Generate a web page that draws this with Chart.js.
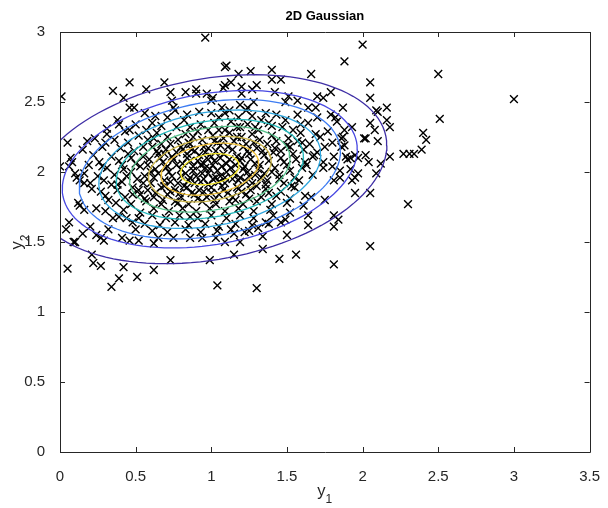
<!DOCTYPE html>
<html>
<head>
<meta charset="utf-8">
<script src="https://cdn.jsdelivr.net/npm/chart.js@4/dist/chart.umd.min.js"></script>
<style>
  html, body { margin: 0; padding: 0; background: #fff; }
</style>
</head>
<body>
<canvas id="chart" width="608" height="508"></canvas>
<script>
// drawn sample (y1, y2)
const samples = [
  [0.96,2.96],[2.00,2.91],[1.88,2.79],[2.50,2.70],[3.00,2.52],[0.01,2.54],
  [2.05,2.64],[2.05,2.53],[2.09,2.44],[2.16,2.46],[1.87,2.46],[2.16,2.37],[2.18,2.32],[2.05,2.35],
  [2.08,2.30],[2.02,2.24],[2.10,2.22],[2.51,2.38],[2.40,2.28],[2.42,2.23],[2.39,2.16],[2.27,2.13],
  [2.31,2.13],[2.34,2.13],[2.18,2.11],[2.02,2.12],[2.04,2.07],[2.12,2.06],[2.09,1.99],[1.97,1.99],
  [1.95,1.96],[1.95,1.85],[2.05,1.85],[2.30,1.77],[1.84,1.66],[1.92,2.10],[1.87,2.25],[1.88,2.30],
  [1.93,2.32],[1.88,2.19],
  [2.05,1.47],[1.81,1.34],[1.81,1.61],[1.81,1.69],[1.56,1.41],[1.45,1.38],[1.30,1.17],[1.04,1.19],
  [0.99,1.37],[1.15,1.41],[1.34,1.45],[1.50,1.55],[1.64,1.62],[1.93,1.94],[1.81,1.94],[1.75,1.80],
  [1.64,1.69],[1.61,1.76],[1.49,1.66],[1.46,1.64],[1.36,1.64],[1.31,1.60],[1.22,1.57],[1.09,1.50],
  [1.03,1.53],[0.94,1.53],[1.34,1.54],[1.15,1.56],
  [0.05,1.31],[0.34,1.18],[0.39,1.24],[0.51,1.25],[0.62,1.30],[0.42,1.32],[0.27,1.33],[0.22,1.35],
  [0.21,1.41],[0.73,1.37],
  [0.09,1.50],[0.04,1.59],[0.06,1.64],[0.20,1.61],[0.24,1.55],[0.27,1.53],[0.15,1.56],[0.32,1.59],
  [0.29,1.51],[0.41,1.53],[0.46,1.51],[0.52,1.51],[0.62,1.49],[0.65,1.53],[0.75,1.53],[0.86,1.53],
  [0.86,1.68],[1.19,1.50],[1.25,1.58],
  [0.13,1.76],[0.16,1.73],[0.06,2.04],[0.13,1.94],[0.16,1.92],[0.20,1.92],[0.24,1.74],[0.34,1.91],
  [0.27,1.86],[0.32,1.80],[0.35,1.67],[0.44,1.67],[0.48,1.64],[0.50,1.59],
  [0.05,2.21],[0.00,2.04],[0.07,2.10],[0.08,2.07],[0.10,1.99],[0.11,1.96],[0.12,1.78],[0.10,1.50],
  [1.09,2.75],[1.10,2.76],[1.18,2.70],[1.26,2.72],[0.46,2.64],[0.35,2.58],[0.69,2.64],[0.57,2.59],
  [0.42,2.53],[0.46,2.46],[0.49,2.46],[0.73,2.57],[0.74,2.51],[0.83,2.57],[0.90,2.59],[0.90,2.56],
  [0.97,2.56],[1.01,2.53],[1.09,2.62],[1.13,2.64],[1.20,2.56],[1.27,2.59],[0.23,2.24],[0.31,2.31],
  [0.39,2.34],[0.38,2.37],[0.46,2.30],[0.57,2.30],[0.61,2.35],[0.56,2.42],[0.75,2.46],[0.76,2.44],
  [0.92,2.43],[1.00,2.42],[1.07,2.46],[1.12,2.44],[1.19,2.48],[1.23,2.44],[0.82,2.37],[0.86,2.32],
  [0.98,2.30],[1.09,2.30],[1.19,2.32],[1.29,2.32],[0.19,2.05],[0.28,2.04],[0.30,2.21],
  [1.40,2.73],[1.66,2.70],[1.40,2.66],[1.46,2.66],[1.30,2.62],[1.20,2.61],[1.08,2.60],[1.42,2.57],
  [1.79,2.57],[1.70,2.54],[1.74,2.53],[1.51,2.54],[1.57,2.51],[1.49,2.50],[1.64,2.46],[1.69,2.46],
  [1.28,2.50],[1.24,2.46],[1.00,2.51],[2.10,2.43],[1.79,2.41],[1.82,2.39],[2.01,2.24],[1.86,2.24],
  [1.80,2.21],[1.72,2.25],[1.70,2.39],[1.64,2.35],[1.57,2.41],[1.54,2.30],[1.49,2.37],[1.43,2.41],
  [1.38,2.35],[1.33,2.37],[1.31,2.30],[1.17,2.32],[1.18,2.39],[1.09,2.42],[1.05,2.30],[1.95,2.12],
  [1.89,2.11],[1.92,2.02],[1.81,2.11],[1.74,2.07],[1.80,2.04],[1.68,2.12],[1.62,2.07],[1.85,2.01],
  [1.60,2.21],[1.83,2.36],[1.86,2.18],[1.75,2.18],[1.90,2.09],[1.97,2.10],[1.67,2.11],[1.63,2.05],
  [1.74,2.03],[1.85,1.96],[1.66,1.82],
  [0.50,2.34],[0.67,2.33],[0.77,2.32],[0.93,2.34],[1.02,2.35],[1.13,2.36],[1.24,2.34],[1.40,2.33],
  [1.47,2.32],[1.59,2.34],[0.63,2.40],[0.71,2.39],[0.84,2.41],[1.05,2.39],[1.27,2.40],[1.36,2.42],
  [0.31,2.27],[0.43,2.29],[0.52,2.26],[0.64,2.28],[0.71,2.25],[0.83,2.27],[0.91,2.29],[1.01,2.26],
  [1.12,2.28],[1.20,2.25],[1.27,2.27],[1.40,2.26],[1.51,2.24],[1.59,2.28],[1.69,2.27],[1.77,2.29],
  [0.18,2.22],[0.36,2.23],[0.45,2.21],[0.58,2.23],[0.67,2.20],[0.78,2.23],[0.85,2.21],[0.94,2.23],
  [1.04,2.21],[1.15,2.22],[1.23,2.20],[1.32,2.23],[1.43,2.22],[1.50,2.19],[1.57,2.22],[1.65,2.20],
  [0.15,2.16],[0.28,2.18],[0.40,2.17],[0.49,2.15],[0.61,2.18],[0.70,2.16],[0.80,2.18],[0.89,2.15],
  [0.98,2.17],[1.06,2.19],[1.14,2.16],[1.21,2.18],[1.34,2.15],[1.42,2.17],[1.52,2.18],[1.61,2.16],
  [1.70,2.14],
  [0.22,2.12],[0.34,2.11],[0.45,2.13],[0.55,2.11],[0.65,2.13],[0.74,2.11],[0.84,2.13],[0.92,2.12],
  [1.00,2.11],[1.08,2.13],[1.17,2.11],[1.25,2.13],[1.35,2.12],[1.46,2.10],[1.54,2.13],
  [0.26,2.07],[0.39,2.08],[0.50,2.06],[0.59,2.09],[0.68,2.07],[0.77,2.05],[0.86,2.08],[0.95,2.06],
  [1.02,2.08],[1.10,2.06],[1.19,2.08],[1.29,2.06],[1.38,2.08],[1.48,2.07],[1.56,2.09],
  [0.31,2.03],[0.42,2.02],[0.53,2.04],[0.63,2.02],[0.71,2.04],[0.80,2.02],[0.88,2.04],[0.96,2.03],
  [1.04,2.01],[1.13,2.03],[1.22,2.04],[1.31,2.02],[1.42,2.03],[1.52,2.01],[1.60,2.03],
  [0.16,1.99],[0.25,1.97],[0.36,1.98],[0.47,2.00],[0.56,1.97],[0.65,1.99],[0.74,1.97],[0.83,1.99],
  [0.90,1.97],[0.98,1.99],[1.06,1.97],[1.15,1.99],[1.25,1.97],[1.35,1.99],[1.45,1.98],[1.55,1.96],
  [1.67,1.98],
  [0.29,1.94],[0.41,1.93],[0.51,1.95],[0.60,1.92],[0.69,1.94],[0.78,1.92],[0.85,1.94],[0.93,1.93],
  [1.01,1.95],[1.09,1.92],[1.18,1.94],[1.27,1.92],[1.37,1.94],[1.48,1.92],[1.58,1.94],
  [0.21,1.88],[0.38,1.87],[0.48,1.89],[0.58,1.87],[0.67,1.89],[0.76,1.87],[0.84,1.89],[0.92,1.87],
  [1.00,1.89],[1.08,1.87],[1.17,1.89],[1.26,1.87],[1.36,1.88],[1.46,1.86],[1.55,1.89],
  [0.30,1.83],[0.43,1.82],[0.53,1.84],[0.62,1.82],[0.71,1.84],[0.80,1.82],[0.89,1.84],[0.97,1.82],
  [1.05,1.84],[1.14,1.82],[1.23,1.84],[1.33,1.82],[1.43,1.83],[1.52,1.81],[1.62,1.83],
  [0.37,1.78],[0.47,1.77],[0.57,1.79],[0.67,1.77],[0.76,1.79],[0.85,1.77],[0.94,1.79],[1.03,1.77],
  [1.12,1.79],[1.21,1.77],[1.30,1.79],[1.40,1.77],[1.50,1.78],
  [0.30,1.72],[0.42,1.73],[0.53,1.71],[0.62,1.74],[0.72,1.72],[0.81,1.74],[0.90,1.72],[0.99,1.74],
  [1.09,1.72],[1.18,1.74],[1.28,1.72],[1.39,1.73],[1.52,1.71],
  [0.39,1.68],[0.52,1.67],[0.61,1.69],[0.70,1.67],[0.79,1.69],[0.91,1.67],[1.00,1.69],[1.10,1.67],
  [1.19,1.69],[1.28,1.67],[1.41,1.69],
  [0.56,1.63],[0.66,1.62],[0.76,1.64],[0.85,1.62],[0.96,1.63],[1.05,1.61],[1.16,1.63],[1.27,1.62],
  [1.38,1.63],
  [0.61,1.58],[0.71,1.57],[0.83,1.59],[0.93,1.57],[1.04,1.58],[1.13,1.59],
  [0.88,2.01],[0.93,2.05],[0.99,2.02],[1.03,1.96],[0.95,1.95],[1.10,2.00],[0.86,1.96],[0.81,2.06],
  [1.06,2.10],[0.97,2.10],[0.72,2.00],[0.69,1.90],[0.75,2.09],[0.60,2.00],[1.19,1.96],[1.24,2.00],
  [1.30,1.90],[1.33,1.96],[1.20,2.10],[0.79,1.85],[0.91,1.81],[1.11,1.85],[0.64,2.15],[0.86,2.20],
  [1.08,2.24],[1.00,1.85],[0.55,1.92],[0.47,2.10],[1.41,2.14],[1.28,2.21],
  [0.58,2.05],[0.62,1.96],[0.66,2.10],[0.70,2.03],[0.73,1.93],[0.77,2.14],[0.80,1.97],[0.82,1.90],
  [0.84,2.10],[0.87,2.16],[0.89,1.92],[0.91,2.08],[0.94,1.99],[0.96,2.14],[0.98,1.91],[1.01,2.05],
  [1.03,2.15],[1.05,1.93],[1.07,2.04],[1.09,1.96],[1.12,2.09],[1.14,1.95],[1.16,2.05],[1.18,1.88],
  [1.21,2.02],[1.23,1.93],[1.26,2.09],[1.29,1.98],[1.32,2.05],[1.36,1.91],[0.52,1.87],[0.56,1.81],
  [0.63,1.85],[0.68,1.80],[0.73,1.86],[0.78,1.78],[0.87,1.85],[0.95,1.86],[1.02,1.80],[1.07,1.90],
  [1.16,1.80],[1.20,1.86],[1.25,1.81],[1.38,1.85],[0.55,2.18],[0.62,2.24],[0.69,2.13],[0.73,2.20],
  [0.81,2.16],[0.88,2.25],[0.95,2.18],[1.02,2.22],[1.11,2.18],[1.17,2.25],[1.24,2.15],[1.30,2.17],
  [1.37,2.20],[1.46,2.15],[0.44,1.97],[0.48,1.84],[0.41,2.05],[0.38,1.91],[1.50,2.05],[1.53,1.90],
  [1.45,1.95],[1.40,2.00]
];

// density contours: mean, covariance and Mahalanobis radius of each level
const mean = [0.99, 2.02];
const covariance = [[0.2704, 0.039], [0.039, 0.09]];
const contourRadii = [2.25, 1.875, 1.66, 1.41, 1.19, 1.02, 0.78, 0.62, 0.37];
const contourColors = ['#3e2ea5', '#4848e2', '#3d7cf2', '#2ea6df', '#20b8bb',
                       '#55c08a', '#cdb74a', '#f1c23a', '#f3e52b'];

const xTicks = [0, 0.5, 1, 1.5, 2, 2.5, 3, 3.5];
const yTicks = [0, 0.5, 1, 1.5, 2, 2.5, 3];

const axisColor = '#262626';
const fontFamily = '"Liberation Sans", Arial, Helvetica, sans-serif';

function ellipse(r) {
  const l11 = Math.sqrt(covariance[0][0]);
  const l21 = covariance[1][0] / l11;
  const l22 = Math.sqrt(covariance[1][1] - l21 * l21);
  const pts = [];
  for (let i = 0; i <= 120; i++) {
    const t = i / 120 * Math.PI * 2;
    const c = Math.cos(t), s = Math.sin(t);
    pts.push({ x: mean[0] + r * l11 * c, y: mean[1] + r * (l21 * c + l22 * s) });
  }
  return pts;
}

// contour lines sit above the markers
const contourSets = contourRadii.map((r, i) => ({
  data: ellipse(r),
  showLine: true,
  borderColor: contourColors[i],
  borderWidth: 1.3,
  pointRadius: 0,
  fill: false,
  tension: 0,
  clip: 0,
  order: 1
}));

const sampleSet = {
  data: samples.map(p => ({ x: p[0], y: p[1] })),
  showLine: false,
  pointStyle: 'crossRot',
  pointRadius: 5.5,
  borderColor: '#000',
  borderWidth: 1.4,
  backgroundColor: '#000',
  order: 2
};

// box with inward ticks, title and subscripted axis labels
const matlabAxes = {
  id: 'matlabAxes',
  afterDraw(chart) {
    const { ctx, chartArea: a, scales } = chart;
    ctx.save();
    ctx.strokeStyle = axisColor;
    ctx.lineWidth = 1;
    ctx.beginPath();
    ctx.rect(Math.round(a.left) + 0.5, Math.round(a.top) + 0.5,
             Math.round(a.right - a.left), Math.round(a.bottom - a.top));
    const tl = 5;
    xTicks.forEach(v => {
      const x = Math.round(scales.x.getPixelForValue(v)) + 0.5;
      ctx.moveTo(x, a.bottom); ctx.lineTo(x, a.bottom - tl);
      ctx.moveTo(x, a.top); ctx.lineTo(x, a.top + tl);
    });
    yTicks.forEach(v => {
      const y = Math.round(scales.y.getPixelForValue(v)) + 0.5;
      ctx.moveTo(a.left, y); ctx.lineTo(a.left + tl, y);
      ctx.moveTo(a.right, y); ctx.lineTo(a.right - tl, y);
    });
    ctx.stroke();

    const cx = (a.left + a.right) / 2;
    ctx.fillStyle = '#000';
    ctx.textAlign = 'center';
    ctx.textBaseline = 'alphabetic';
    ctx.font = 'bold 13px ' + fontFamily;
    ctx.fillText('2D Gaussian', cx, 20);

    ctx.fillStyle = axisColor;
    ctx.textAlign = 'left';
    ctx.font = '16.5px ' + fontFamily;
    const yw = ctx.measureText('y').width;
    ctx.font = '12px ' + fontFamily;
    const sw = ctx.measureText('1').width;
    const x0 = cx - (yw + sw) / 2;
    ctx.font = '16.5px ' + fontFamily;
    ctx.fillText('y', x0, 496);
    ctx.font = '12px ' + fontFamily;
    ctx.fillText('1', x0 + yw, 503);

    const cy = (a.top + a.bottom) / 2;
    ctx.translate(22, cy);
    ctx.rotate(-Math.PI / 2);
    ctx.font = '16.5px ' + fontFamily;
    ctx.fillText('y', -(yw + sw) / 2, 0);
    ctx.font = '12px ' + fontFamily;
    ctx.fillText('2', -(yw + sw) / 2 + yw, 7);
    ctx.restore();
  }
};

const plainTick = v => String(v);

new Chart(document.getElementById('chart'), {
  type: 'scatter',
  data: { datasets: [sampleSet, ...contourSets] },
  options: {
    responsive: false,
    animation: false,
    events: [],
    layout: { padding: { top: 32, right: 15, left: 0, bottom: 0 } },
    plugins: { legend: { display: false }, tooltip: { enabled: false } },
    scales: {
      x: {
        type: 'linear', min: 0, max: 3.5,
        afterBuildTicks: s => { s.ticks = xTicks.map(v => ({ value: v })); },
        afterFit: s => { s.height = 56; },
        grid: { display: false },
        border: { display: false },
        ticks: { color: axisColor, padding: 8, maxRotation: 0, callback: plainTick,
                 font: { family: fontFamily, size: 15 } }
      },
      y: {
        type: 'linear', min: 0, max: 3,
        afterBuildTicks: s => { s.ticks = yTicks.map(v => ({ value: v })); },
        afterFit: s => { s.width = 60; },
        grid: { display: false },
        border: { display: false },
        ticks: { color: axisColor, padding: 7, callback: plainTick,
                 font: { family: fontFamily, size: 15 } }
      }
    }
  },
  plugins: [matlabAxes]
});
</script>
</body>
</html>
